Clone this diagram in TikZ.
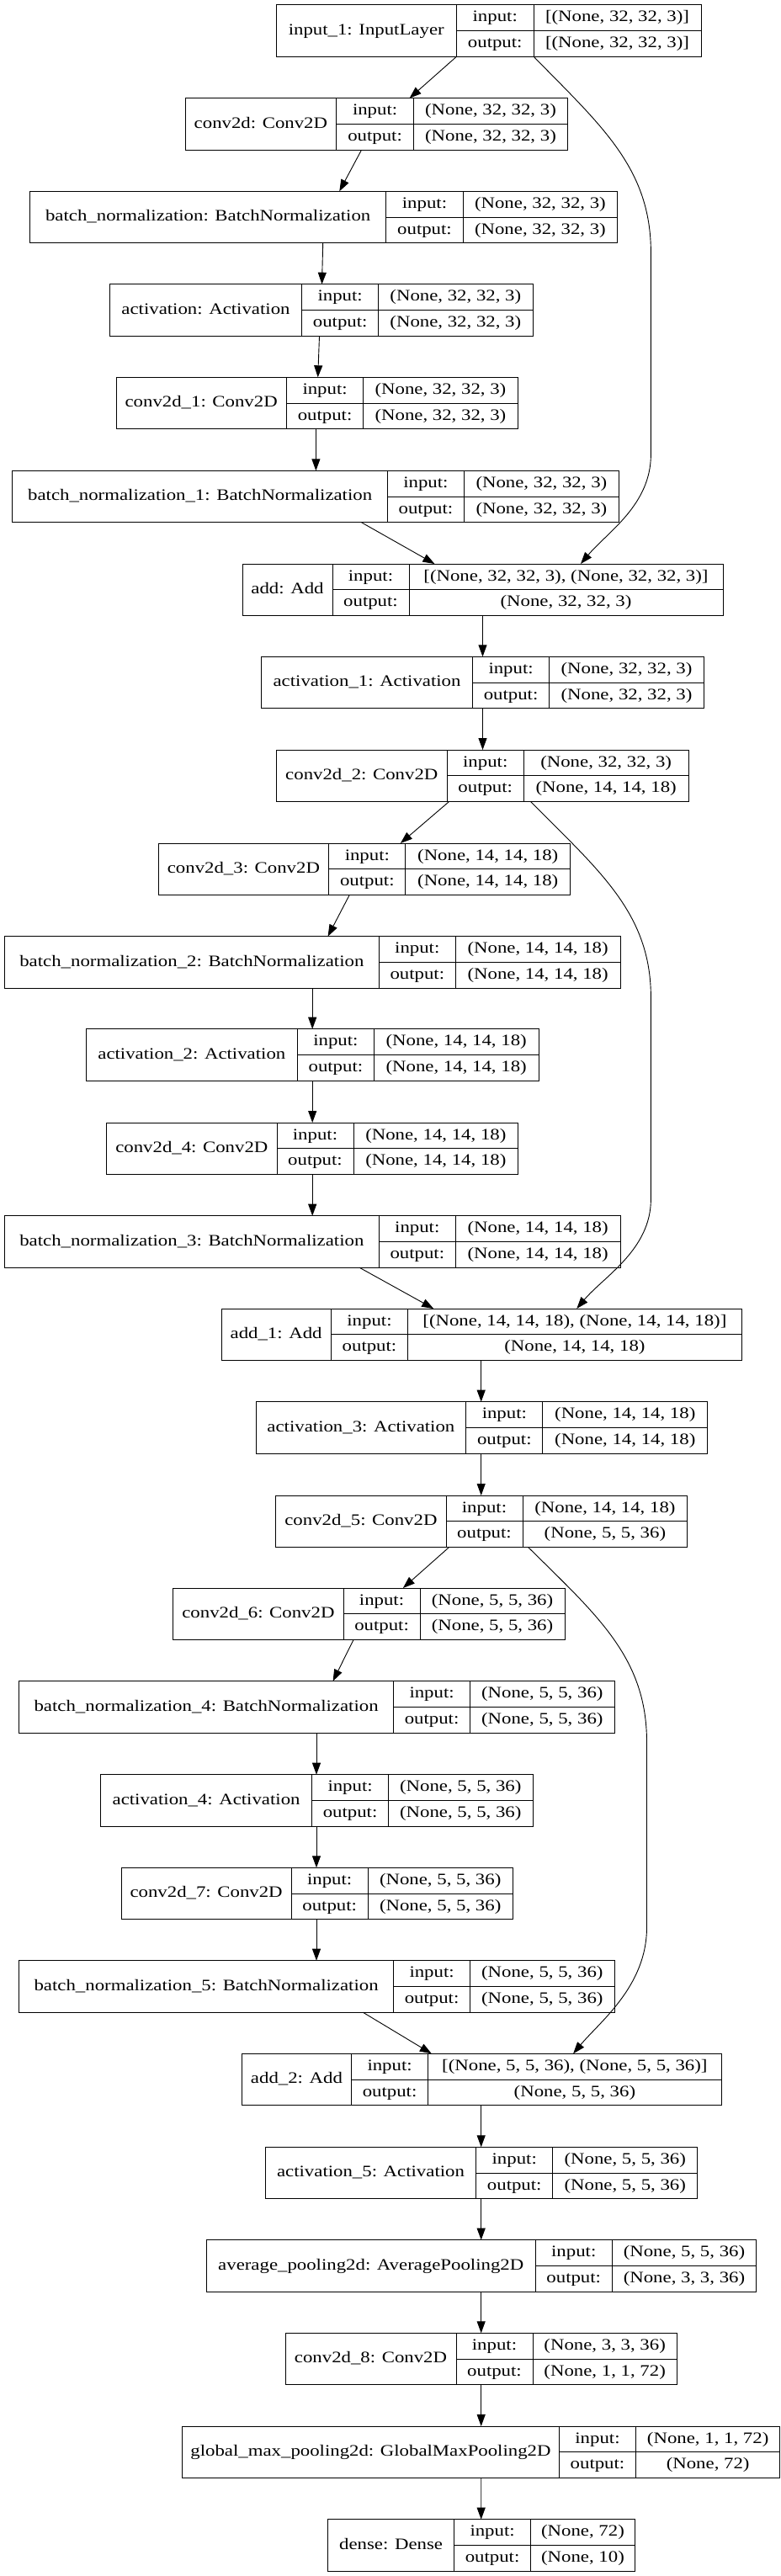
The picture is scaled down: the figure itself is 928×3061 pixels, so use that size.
\documentclass[tikz,border=0pt]{standalone}
\usepackage{fontspec}
\setmainfont{Liberation Serif}[FakeStretch=1.2]
\usetikzlibrary{calc,arrows.meta}
\tikzset{
  box/.style={draw=black, line width=1pt, inner sep=0pt, outer sep=0pt, rectangle},
  cell/.style={draw=black, line width=1pt},
  txt/.style={inner sep=0pt, font=\fontsize{19}{22}\selectfont, text height=13.5pt, text depth=4pt},
  edge/.style={draw=black, line width=0.9pt, -{Triangle[length=14pt,width=10pt]}}
}
% #1 name, #2 x0, #3 x1, #4 y0, #5 first divider, #6 second divider, #7 label, #8 input, #9 output
\newcommand\layer[9]{%
  \node[box, minimum width={#3pt-#2pt}, minimum height=61.5pt, anchor=north west] (#1) at (#2,#4) {};
  \draw[cell] (#5,#4) -- (#5,{#4+61.5});
  \draw[cell] (#6,#4) -- (#6,{#4+61.5});
  \draw[cell] (#5,{#4+30.75}) -- (#3,{#4+30.75});
  \node[txt] at ({(#2+#5)/2},{#4+30.75}) {#7};
  \node[txt] at ({(#5+#6)/2},{#4+15.4}) {input:};
  \node[txt] at ({(#5+#6)/2},{#4+46.1}) {output:};
  \node[txt] at ({(#6+#3)/2},{#4+15.4}) {#8};
  \node[txt] at ({(#6+#3)/2},{#4+46.1}) {#9};
}
\begin{document}
\begin{tikzpicture}[x=1pt,y=-1pt]
\useasboundingbox (0,0) rectangle (928,3061);
\layer{in1}{328}{833}{5.7}{542.5}{634}{input\_1: InputLayer}{[(None, 32, 32, 3)]}{[(None, 32, 32, 3)]}
\layer{c0}{220}{674.6}{116.7}{399.8}{491.4}{conv2d: Conv2D}{(None, 32, 32, 3)}{(None, 32, 32, 3)}
\layer{bn0}{35.7}{733.5}{227.3}{458.7}{550.3}{batch\_normalization: BatchNormalization}{(None, 32, 32, 3)}{(None, 32, 32, 3)}
\layer{a0}{130.3}{633}{337.7}{358.7}{449.7}{activation: Activation}{(None, 32, 32, 3)}{(None, 32, 32, 3)}
\layer{c1}{138}{615}{448.3}{340.3}{431.9}{conv2d\_1: Conv2D}{(None, 32, 32, 3)}{(None, 32, 32, 3)}
\layer{bn1}{14.9}{735.3}{559.3}{460.4}{551.5}{batch\_normalization\_1: BatchNormalization}{(None, 32, 32, 3)}{(None, 32, 32, 3)}
\layer{add0}{288}{859}{670}{395}{486}{add: Add}{[(None, 32, 32, 3), (None, 32, 32, 3)]}{(None, 32, 32, 3)}
\layer{a1}{310.5}{836.4}{780.3}{561.6}{652.6}{activation\_1: Activation}{(None, 32, 32, 3)}{(None, 32, 32, 3)}
\layer{c2}{328.4}{818}{891}{531.2}{622.3}{conv2d\_2: Conv2D}{(None, 32, 32, 3)}{(None, 14, 14, 18)}
\layer{c3}{188}{677.6}{1002}{390.8}{481.9}{conv2d\_3: Conv2D}{(None, 14, 14, 18)}{(None, 14, 14, 18)}
\layer{bn2}{5.4}{737}{1112.7}{450.3}{541.3}{batch\_normalization\_2: BatchNormalization}{(None, 14, 14, 18)}{(None, 14, 14, 18)}
\layer{a2}{102.3}{640}{1222.7}{353.4}{444.4}{activation\_2: Activation}{(None, 14, 14, 18)}{(None, 14, 14, 18)}
\layer{c4}{126.7}{615.7}{1334}{329}{420}{conv2d\_4: Conv2D}{(None, 14, 14, 18)}{(None, 14, 14, 18)}
\layer{bn3}{5.4}{737}{1444.7}{450.3}{541.3}{batch\_normalization\_3: BatchNormalization}{(None, 14, 14, 18)}{(None, 14, 14, 18)}
\layer{add1}{263}{881}{1555}{393.2}{484.8}{add\_1: Add}{[(None, 14, 14, 18), (None, 14, 14, 18)]}{(None, 14, 14, 18)}
\layer{a3}{304}{840.6}{1665.7}{553.8}{644.9}{activation\_3: Activation}{(None, 14, 14, 18)}{(None, 14, 14, 18)}
\layer{c5}{327.8}{816.8}{1777}{530}{621}{conv2d\_5: Conv2D}{(None, 14, 14, 18)}{(None, 5, 5, 36)}
\layer{c6}{205.8}{671}{1887}{408}{499.1}{conv2d\_6: Conv2D}{(None, 5, 5, 36)}{(None, 5, 5, 36)}
\layer{bn4}{22.6}{730}{1997.7}{467.6}{558.6}{batch\_normalization\_4: BatchNormalization}{(None, 5, 5, 36)}{(None, 5, 5, 36)}
\layer{a4}{119.6}{633}{2108.7}{370.6}{461.6}{activation\_4: Activation}{(None, 5, 5, 36)}{(None, 5, 5, 36)}
\layer{c7}{144}{609.2}{2219.3}{346.2}{437.2}{conv2d\_7: Conv2D}{(None, 5, 5, 36)}{(None, 5, 5, 36)}
\layer{bn5}{22.6}{730}{2329.7}{467.6}{558.6}{batch\_normalization\_5: BatchNormalization}{(None, 5, 5, 36)}{(None, 5, 5, 36)}
\layer{add2}{287.3}{857.2}{2440.3}{417.6}{508.6}{add\_2: Add}{[(None, 5, 5, 36), (None, 5, 5, 36)]}{(None, 5, 5, 36)}
\layer{a5}{315.3}{828.7}{2551.3}{565.7}{656.8}{activation\_5: Activation}{(None, 5, 5, 36)}{(None, 5, 5, 36)}
\layer{ap}{245}{898.9}{2661.7}{636.5}{727}{average\_pooling2d: AveragePooling2D}{(None, 5, 5, 36)}{(None, 3, 3, 36)}
\layer{c8}{339}{804.3}{2772.3}{542}{633}{conv2d\_8: Conv2D}{(None, 3, 3, 36)}{(None, 1, 1, 72)}
\layer{gmp}{216.5}{926.8}{2883}{664.5}{755.5}{global\_max\_pooling2d: GlobalMaxPooling2D}{(None, 1, 1, 72)}{(None, 72)}
\layer{dense}{389.6}{754.3}{2993.7}{539.6}{630.6}{dense: Dense}{(None, 72)}{(None, 10)}

% connectors
\draw[edge] ($(in1.south west)+(214.5,0)$) -- ($(c0.north west)+(266.6,0)$);
\draw[edge] ($(c0.south west)+(209.5,0)$) -- ($(bn0.north west)+(367.6,0)$);
\draw[edge] ($(bn0.south west)+(348,0)$) -- ($(a0.north west)+(252.2,0)$);
\draw[edge] ($(a0.south west)+(249.2,0)$) -- ($(c1.north west)+(239.7,0)$);
\draw[edge] ($(c1.south west)+(237.4,0)$) -- ($(bn1.north west)+(360.5,0)$);
\draw[edge] ($(bn1.south west)+(414.6,0)$) -- ($(add0.north west)+(228.4,0)$);
\draw[edge] ($(in1.south west)+(306.1,0)$) .. controls (715,150) and (773.4,200) .. (773.4,300) -- (773.4,540) .. controls (773.4,600) and (722,632) .. ($(add0.north west)+(402,0)$);
\draw[edge] ($(add0.south west)+(285.5,0)$) -- ($(a1.north west)+(263,0)$);
\draw[edge] ($(a1.south west)+(263,0)$) -- ($(c2.north west)+(245.1,0)$);
\draw[edge] ($(c2.south west)+(205.2,0)$) -- ($(c3.north west)+(287.9,0)$);
\draw[edge] ($(c3.south west)+(227.2,0)$) -- ($(bn2.north west)+(384.2,0)$);
\draw[edge] ($(bn2.south west)+(365.8,0)$) -- ($(a2.north west)+(268.9,0)$);
\draw[edge] ($(a2.south west)+(268.9,0)$) -- ($(c4.north west)+(244.5,0)$);
\draw[edge] ($(c4.south west)+(244.5,0)$) -- ($(bn3.north west)+(365.8,0)$);
\draw[edge] ($(bn3.south west)+(421.7,0)$) -- ($(add1.north west)+(252.2,0)$);
\draw[edge] ($(c2.south west)+(302.2,0)$) .. controls (712,1035) and (773.4,1085) .. (773.4,1185) -- (773.4,1425) .. controls (773.4,1485) and (717.3,1517) .. ($(add1.north west)+(422.3,0)$);
\draw[edge] ($(add1.south west)+(308.7,0)$) -- ($(a3.north west)+(267.7,0)$);
\draw[edge] ($(a3.south west)+(267.7,0)$) -- ($(c5.north west)+(243.9,0)$);
\draw[edge] ($(c5.south west)+(205.8,0)$) -- ($(c6.north west)+(273.1,0)$);
\draw[edge] ($(c6.south west)+(214.2,0)$) -- ($(bn4.north west)+(373,0)$);
\draw[edge] ($(bn4.south west)+(353.4,0)$) -- ($(a4.north west)+(256.4,0)$);
\draw[edge] ($(a4.south west)+(256.4,0)$) -- ($(c7.north west)+(232,0)$);
\draw[edge] ($(c7.south west)+(232,0)$) -- ($(bn5.north west)+(353.4,0)$);
\draw[edge] ($(bn5.south west)+(408.7,0)$) -- ($(add2.north west)+(225.5,0)$);
\draw[edge] ($(c5.south west)+(299.8,0)$) .. controls (710,1920) and (768.5,1970) .. (768.5,2070) -- (768.5,2290) .. controls (768.5,2360) and (713,2402) .. ($(add2.north west)+(393.8,0)$);
\draw[edge] ($(add2.south west)+(284.4,0)$) -- ($(a5.north west)+(256.4,0)$);
\draw[edge] ($(a5.south west)+(256.4,0)$) -- ($(ap.north west)+(326.7,0)$);
\draw[edge] ($(ap.south west)+(326.7,0)$) -- ($(c8.north west)+(232.7,0)$);
\draw[edge] ($(c8.south west)+(232.7,0)$) -- ($(gmp.north west)+(355.2,0)$);
\draw[edge] ($(gmp.south west)+(355.2,0)$) -- ($(dense.north west)+(182.1,0)$);
\end{tikzpicture}
\end{document}
